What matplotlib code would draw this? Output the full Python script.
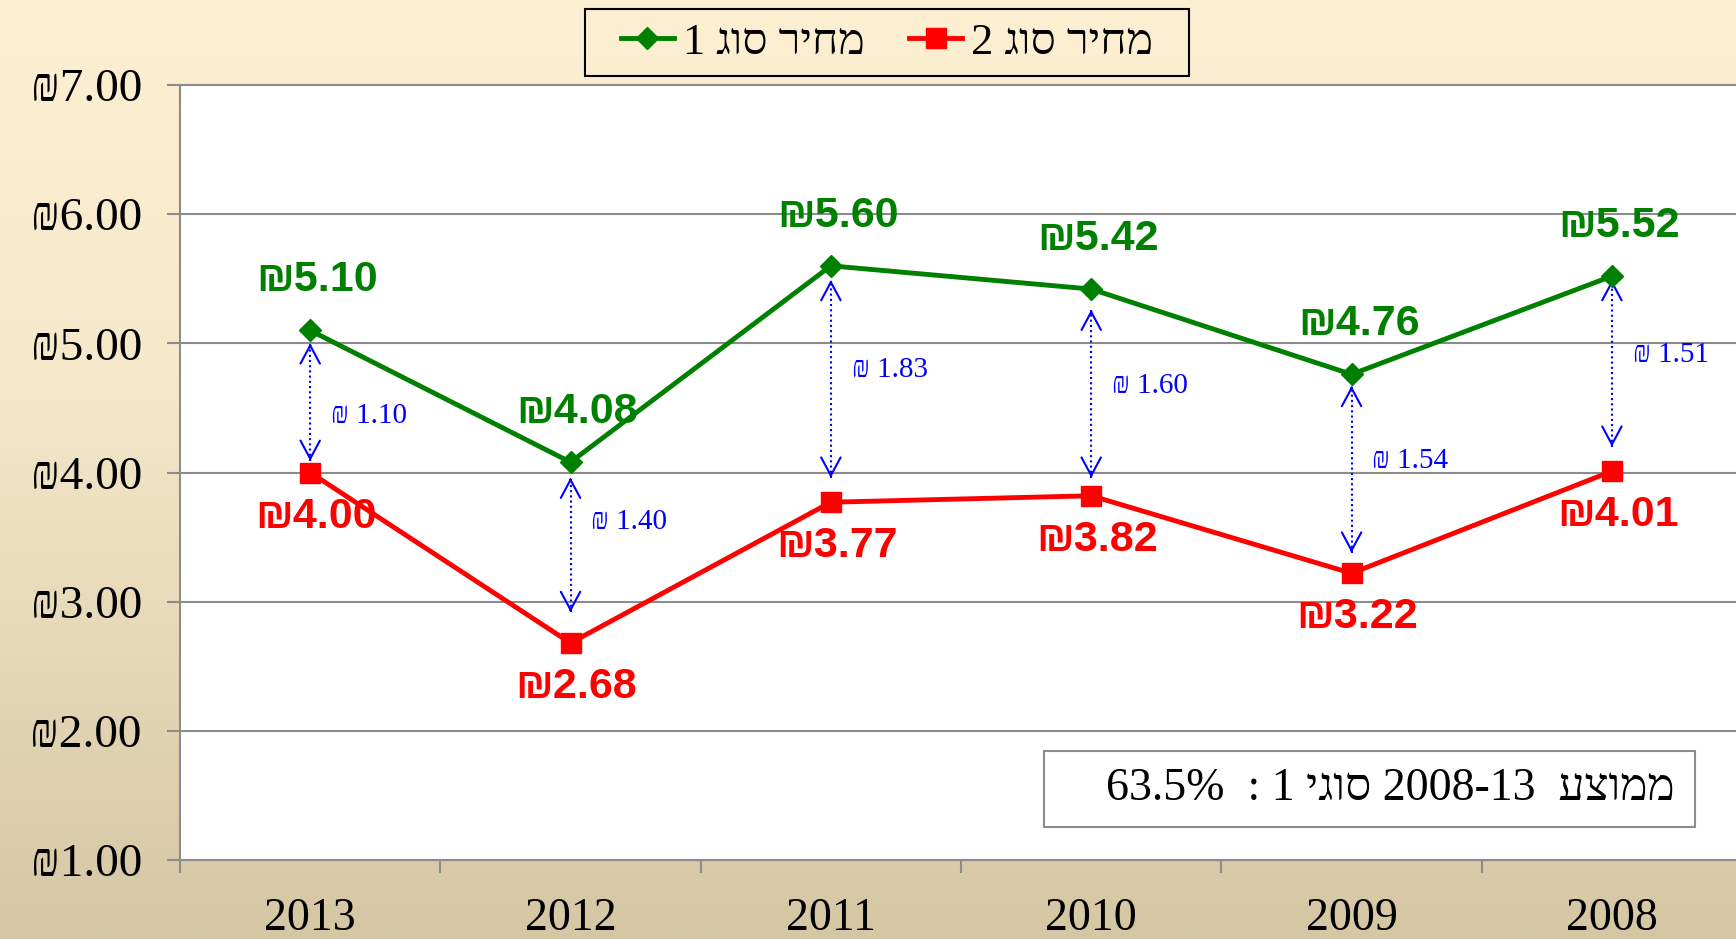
import numpy as np
import matplotlib.pyplot as plt
from matplotlib.colors import to_rgb
from matplotlib.patches import Rectangle


def rtl(s):
    # matplotlib draws left to right, so Hebrew is reversed into visual order
    return s[::-1]


years = ['2013', '2012', '2011', '2010', '2009', '2008']
price_type1 = [5.10, 4.08, 5.60, 5.42, 4.76, 5.52]
price_type2 = [4.00, 2.68, 3.77, 3.82, 3.22, 4.01]
arrow_top = [5.00, 3.96, 5.49, 5.26, 4.67, 5.49]
arrow_bottom = [4.09, 2.92, 3.96, 3.96, 3.38, 4.20]
gap_label_y = [4.44, 3.62, 4.79, 4.67, 4.09, 4.91]
y_ticks = [1, 2, 3, 4, 5, 6, 7]
avg_pct = '63.5'

label1 = rtl('מחיר סוג 1')
label2 = rtl('מחיר סוג 2')
avg_text = f"{avg_pct}%  : 1 {rtl('סוגי')} 2008-13  {rtl('ממוצע')}"

serif = ['Liberation Serif', 'DejaVu Sans']
sans_bold = ['Liberation Sans', 'DejaVu Sans']
green = '#008000'
red = '#FF0000'
grey = '#8C8C8C'

fig = plt.figure(figsize=(17.36, 9.39), dpi=100)

# background gradient, cream at top to tan at bottom
bg = fig.add_axes([0, 0, 1, 1], zorder=-1)
t = np.linspace(0, 1, 400)
stops = [0.0, 0.4, 1.0]
cols = [to_rgb('#FDEFD2'), to_rgb('#F5E8CB'), to_rgb('#D5C7A4')]
grad = np.stack([np.interp(t, stops, [c[i] for c in cols]) for i in range(3)], axis=-1)
bg.imshow(grad[:, None, :], aspect='auto', extent=[0, 1, 0, 1])
bg.set_xlim(0, 1)
bg.set_ylim(0, 1)
bg.axis('off')

# legend frame drawn by hand so the padding can be wider than tall
bg.add_patch(Rectangle((585 / 1736, 1 - 76 / 939), 604 / 1736, 67 / 939,
                       fc='none', ec='black', lw=1.5))

ax = fig.add_axes([0.1037, 0.0841, 0.8998, 0.8254])
ax.set_facecolor('white')
x = np.arange(len(years))

ax.plot(x, price_type1, color=green, lw=3.5, marker='D', ms=11, label=label1, zorder=4)
ax.plot(x, price_type2, color=red, lw=3.5, marker='s', ms=14, label=label2, zorder=4)

for i in range(len(years)):
    ax.annotate(f'₪{price_type1[i]:.2f}', (x[i], price_type1[i]), xytext=(7, 50),
                textcoords='offset pixels', ha='center', va='center', color=green,
                fontsize=31, fontweight='bold', family=sans_bold, zorder=5)
    ax.annotate(f'₪{price_type2[i]:.2f}', (x[i], price_type2[i]), xytext=(6, -44),
                textcoords='offset pixels', ha='center', va='center', color=red,
                fontsize=31, fontweight='bold', family=sans_bold, zorder=5)

    # dotted double arrow with open heads
    ax.plot([x[i], x[i]], [arrow_bottom[i], arrow_top[i]], color='blue', lw=1.5,
            ls=(0, (1, 1.5)), zorder=3)
    head = dict(arrowstyle='->,head_length=1.3,head_width=0.7', color='blue', lw=1.5,
                shrinkA=0, shrinkB=0, mutation_scale=10)
    ax.annotate('', xy=(x[i], arrow_top[i]), xytext=(x[i], arrow_top[i] - 0.02), arrowprops=head)
    ax.annotate('', xy=(x[i], arrow_bottom[i]), xytext=(x[i], arrow_bottom[i] + 0.02), arrowprops=head)

    gap = price_type1[i] - price_type2[i]
    ax.text(x[i] + 0.08, gap_label_y[i], f'₪ {gap:.2f}', color='blue', fontsize=21,
            family=serif, ha='left', va='center')

ax.set_xlim(-0.5, 5.5)
ax.set_ylim(1, 7)
ax.set_yticks(y_ticks)
ax.set_yticklabels([f'₪{v:.2f}' for v in y_ticks], family=serif, fontsize=34)
ax.set_xticks(np.arange(-0.5, 6, 1))
ax.set_xticklabels([])
ax.set_xticks(x, minor=True)
ax.set_xticklabels(years, minor=True, family=serif, fontsize=33)
ax.tick_params(axis='x', which='major', length=9.5, width=1.5, color=grey, direction='out')
ax.tick_params(axis='x', which='minor', length=0, pad=27)
ax.tick_params(axis='y', length=9.5, width=1.5, color=grey, pad=18)
ax.grid(axis='y', color=grey, lw=1.5, clip_on=False)
ax.set_axisbelow(True)
for side in ['top', 'right']:
    ax.spines[side].set_visible(False)
for side in ['left', 'bottom']:
    ax.spines[side].set_color(grey)
    ax.spines[side].set_linewidth(1.5)

# average box
ax.add_patch(Rectangle((2.82, 1.256), 2.5, 0.588, fc='white', ec=grey, lw=1.5, zorder=2))
ax.text(5.24, 1.55, avg_text, family=serif, fontsize=33, ha='right', va='center', zorder=3)

fig.legend(loc='center', bbox_to_anchor=(887 / 1736, 1 - 42.5 / 939), ncol=2, frameon=False,
           handlelength=1.2, columnspacing=1.0, handletextpad=0.2, borderpad=0.3,
           prop={'family': serif, 'size': 32})

fig.savefig('out.png', dpi=100)
